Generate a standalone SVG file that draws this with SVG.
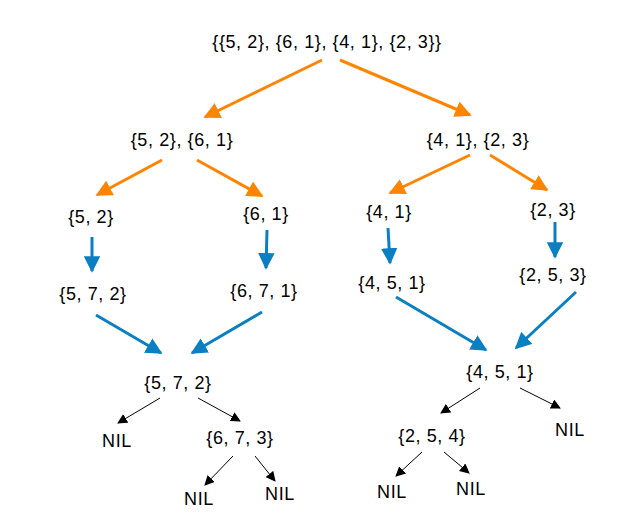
<svg xmlns="http://www.w3.org/2000/svg" width="644" height="531" viewBox="0 0 644 531">
<style>
text{font-family:"Liberation Sans",Arial,sans-serif;font-size:18px;letter-spacing:0.6px;text-anchor:middle;fill:#000}
.o{stroke:#ff8400;stroke-width:3;fill:none;marker-end:url(#mo)}
.b{stroke:#0a7fc2;stroke-width:3;fill:none;marker-end:url(#mb)}
.k{stroke:#000;stroke-width:1;fill:none;marker-end:url(#mk)}
</style>
<defs>
<marker id="mo" viewBox="0 0 10 10" refX="9" refY="5" markerWidth="5.5" markerHeight="5.5" orient="auto" markerUnits="strokeWidth"><path d="M0,0L10,5L0,10z" fill="#ff8400"/></marker>
<marker id="mb" viewBox="0 0 10 10" refX="9" refY="5" markerWidth="5.5" markerHeight="5.5" orient="auto" markerUnits="strokeWidth"><path d="M0,0L10,5L0,10z" fill="#0a7fc2"/></marker>
<marker id="mk" viewBox="0 0 10 10" refX="9" refY="5" markerWidth="10" markerHeight="10" orient="auto" markerUnits="strokeWidth"><path d="M0,0L10,5L0,10z" fill="#000"/></marker>
</defs>
<rect width="644" height="531" fill="#fff"/>
<g id="connectors">
<line class="o" x1="322" y1="60" x2="205" y2="117"/>
<line class="o" x1="340" y1="60" x2="470" y2="115"/>
<line class="o" x1="162" y1="160" x2="97" y2="195"/>
<line class="o" x1="197" y1="160" x2="262" y2="196"/>
<line class="o" x1="470" y1="155" x2="390" y2="193"/>
<line class="o" x1="490" y1="155" x2="547" y2="190"/>
<line class="b" x1="92" y1="237" x2="92" y2="271"/>
<line class="b" x1="267" y1="230" x2="266" y2="268"/>
<line class="b" x1="388" y1="228" x2="390" y2="263"/>
<line class="b" x1="555" y1="222" x2="555" y2="257"/>
<line class="b" x1="96" y1="315" x2="161" y2="353"/>
<line class="b" x1="262" y1="312" x2="192" y2="353"/>
<line class="b" x1="396" y1="297" x2="486" y2="350"/>
<line class="b" x1="576" y1="292" x2="516" y2="348"/>
<line class="k" x1="160" y1="398" x2="118" y2="423"/>
<line class="k" x1="198" y1="398" x2="240" y2="421"/>
<line class="k" x1="233" y1="456" x2="205" y2="485"/>
<line class="k" x1="255" y1="456" x2="275" y2="481"/>
<line class="k" x1="480" y1="388" x2="441" y2="413"/>
<line class="k" x1="520" y1="388" x2="560" y2="408"/>
<line class="k" x1="422" y1="452" x2="396" y2="476"/>
<line class="k" x1="444" y1="452" x2="469" y2="473"/>
</g>
<g id="n0"><text x="327" y="48">{{5, 2}, {6, 1}, {4, 1}, {2, 3}}</text></g>
<g id="n1"><text x="182" y="146">{5, 2}, {6, 1}</text></g>
<g id="n2"><text x="478" y="146">{4, 1}, {2, 3}</text></g>
<g id="n3"><text x="91" y="223">{5, 2}</text></g>
<g id="n4"><text x="266" y="220">{6, 1}</text></g>
<g id="n5"><text x="389" y="218">{4, 1}</text></g>
<g id="n6"><text x="553" y="216">{2, 3}</text></g>
<g id="n7"><text x="93" y="300">{5, 7, 2}</text></g>
<g id="n8"><text x="264" y="297">{6, 7, 1}</text></g>
<g id="n9"><text x="392" y="289">{4, 5, 1}</text></g>
<g id="n10"><text x="553" y="281">{2, 5, 3}</text></g>
<g id="n11"><text x="178" y="389">{5, 7, 2}</text></g>
<g id="n12"><text x="500" y="378">{4, 5, 1}</text></g>
<g id="n13"><text x="117" y="447">NIL</text></g>
<g id="n14"><text x="240" y="444">{6, 7, 3}</text></g>
<g id="n15"><text x="199" y="505">NIL</text></g>
<g id="n16"><text x="280" y="500">NIL</text></g>
<g id="n17"><text x="432" y="442">{2, 5, 4}</text></g>
<g id="n18"><text x="570" y="436">NIL</text></g>
<g id="n19"><text x="392" y="498">NIL</text></g>
<g id="n20"><text x="471" y="495">NIL</text></g>
</svg>
